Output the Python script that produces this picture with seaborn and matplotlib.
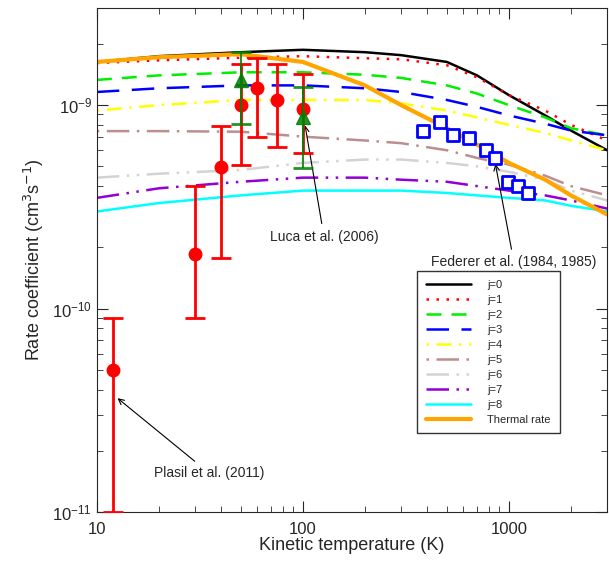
import numpy as np
import matplotlib
matplotlib.use("Agg")
import matplotlib.pyplot as plt
import seaborn as sns

sns.set_style("ticks")
plt.rcParams['font.family'] = ['Liberation Sans', 'DejaVu Sans']

T = [10, 20, 50, 100, 200, 300, 500, 700, 1000, 1500, 2000, 3000]
j0 = [1.63, 1.74, 1.82, 1.87, 1.82, 1.76, 1.63, 1.40, 1.12, 0.89, 0.75, 0.60]
j1 = [1.61, 1.66, 1.71, 1.74, 1.70, 1.68, 1.57, 1.37, 1.12, 0.94, 0.80, 0.67]
j2 = [1.33, 1.40, 1.45, 1.45, 1.41, 1.36, 1.25, 1.14, 1.00, 0.87, 0.77, 0.71]
j3 = [1.16, 1.21, 1.25, 1.25, 1.21, 1.16, 1.06, 0.98, 0.89, 0.81, 0.75, 0.71]
j4 = [0.94, 1.00, 1.06, 1.06, 1.06, 1.02, 0.94, 0.87, 0.80, 0.73, 0.67, 0.60]
j5 = [0.745, 0.745, 0.74, 0.70, 0.67, 0.65, 0.60, 0.55, 0.51, 0.45, 0.40, 0.36]
j6 = [0.44, 0.46, 0.48, 0.52, 0.54, 0.54, 0.52, 0.50, 0.47, 0.43, 0.38, 0.34]
j7 = [0.35, 0.39, 0.42, 0.44, 0.44, 0.43, 0.42, 0.40, 0.38, 0.36, 0.34, 0.31]
j8 = [0.30, 0.33, 0.36, 0.38, 0.38, 0.38, 0.37, 0.36, 0.35, 0.34, 0.32, 0.30]
thermal = [1.63, 1.72, 1.78, 1.63, 1.25, 1.00, 0.77, 0.64, 0.52, 0.43, 0.36, 0.29]

# red circles (units 1e-9)
red_T = [12, 30, 40, 50, 60, 75, 100]
red_k = [0.05, 0.185, 0.495, 1.0, 1.21, 1.06, 0.955]
red_lo = [0.01, 0.09, 0.178, 0.51, 0.70, 0.62, 0.58]
red_hi = [0.09, 0.40, 0.79, 1.6, 1.7, 1.6, 1.42]
# Luca et al. (2006)
grn_T = [50, 100]
grn_k = [1.33, 0.87]
grn_lo = [0.81, 0.49]
grn_hi = [1.82, 1.23]
# Federer et al.
fed_T = [385, 464, 535, 641, 774, 855, 988, 1105, 1235]
fed_k = [0.75, 0.83, 0.71, 0.69, 0.60, 0.55, 0.42, 0.40, 0.37]

fig = plt.figure(figsize=(6.09, 5.74), dpi=100)
ax = fig.add_axes([0.159, 0.108, 0.838, 0.878])

styles = [("j=0", j0, "black", "-"), ("j=1", j1, "red", (0, (1, 3))),
          ("j=2", j2, "#00ee00", (0, (6, 4))), ("j=3", j3, "blue", (0, (9, 5))),
          ("j=4", j4, "yellow", (0, (1, 3, 6, 3))), ("j=5", j5, "#bc8f8f", (0, (1, 3, 9, 3))),
          ("j=6", j6, "#d3d3d3", (0, (9, 3, 1, 3, 1, 3))), ("j=7", j7, "#9400d3", (0, (9, 3, 1, 3, 1, 3))),
          ("j=8", j8, "cyan", "-")]
for lab, v, c, ls in styles:
    sns.lineplot(x=T, y=np.array(v) * 1e-9, ax=ax, color=c, linestyle=ls, lw=1.8, label=lab)
sns.lineplot(x=T, y=np.array(thermal) * 1e-9, ax=ax, color="orange", lw=3, label="Thermal rate")

rk = np.array(red_k) * 1e-9
ax.errorbar(red_T, rk, yerr=[rk - np.array(red_lo) * 1e-9, np.array(red_hi) * 1e-9 - rk],
            fmt="o", color="red", ms=9, capsize=7, elinewidth=2, capthick=2, zorder=5)
gk = np.array(grn_k) * 1e-9
ax.errorbar(grn_T, gk, yerr=[gk - np.array(grn_lo) * 1e-9, np.array(grn_hi) * 1e-9 - gk],
            fmt="^", color="green", ms=10, capsize=7, elinewidth=1.5, capthick=2, zorder=6, alpha=0.85)
sns.scatterplot(x=fed_T, y=np.array(fed_k) * 1e-9, ax=ax, marker="s", s=70,
                facecolor="white", edgecolor="blue", linewidth=2, zorder=7)

ax.set_xscale("log"); ax.set_yscale("log")
ax.set_xlim(10, 3000); ax.set_ylim(1e-11, 3e-9)
ax.set_xlabel("Kinetic temperature (K)", fontsize=13, labelpad=0)
ax.set_ylabel("Rate coefficient (cm$^3$s$^{-1}$)", fontsize=13)
ax.tick_params(which="both", direction="in", top=True, right=True, labelsize=12)
ax.tick_params(axis="x", pad=7)
ax.tick_params(which="major", length=8)
ax.tick_params(which="minor", length=4)
ax.set_xticks([10, 100, 1000]); ax.set_xticklabels(["10", "100", "1000"])

ap = dict(arrowstyle="->", color="black", lw=0.8)
ax.annotate("Luca et al. (2006)", xy=(102, 0.82e-9), xytext=(69, 0.226e-9), va="center",
            fontsize=10, arrowprops=ap)
ax.annotate("Federer et al. (1984, 1985)", xy=(855, 0.53e-9), xytext=(420, 0.169e-9), va="center",
            fontsize=10, arrowprops=ap)
ax.annotate("Plasil et al. (2011)", xy=(12.3, 0.037e-9), xytext=(19, 0.0155e-9), va="center",
            fontsize=10, arrowprops=ap)

leg = ax.legend(loc="upper left", bbox_to_anchor=(0.617, 0.49), fontsize=8, frameon=True,
                fancybox=False, edgecolor="black", handlelength=4, labelspacing=0.45,
                borderpad=0.8, handletextpad=1.5)
leg.get_frame().set_linewidth(1)
fig.savefig("out.png", dpi=100)
